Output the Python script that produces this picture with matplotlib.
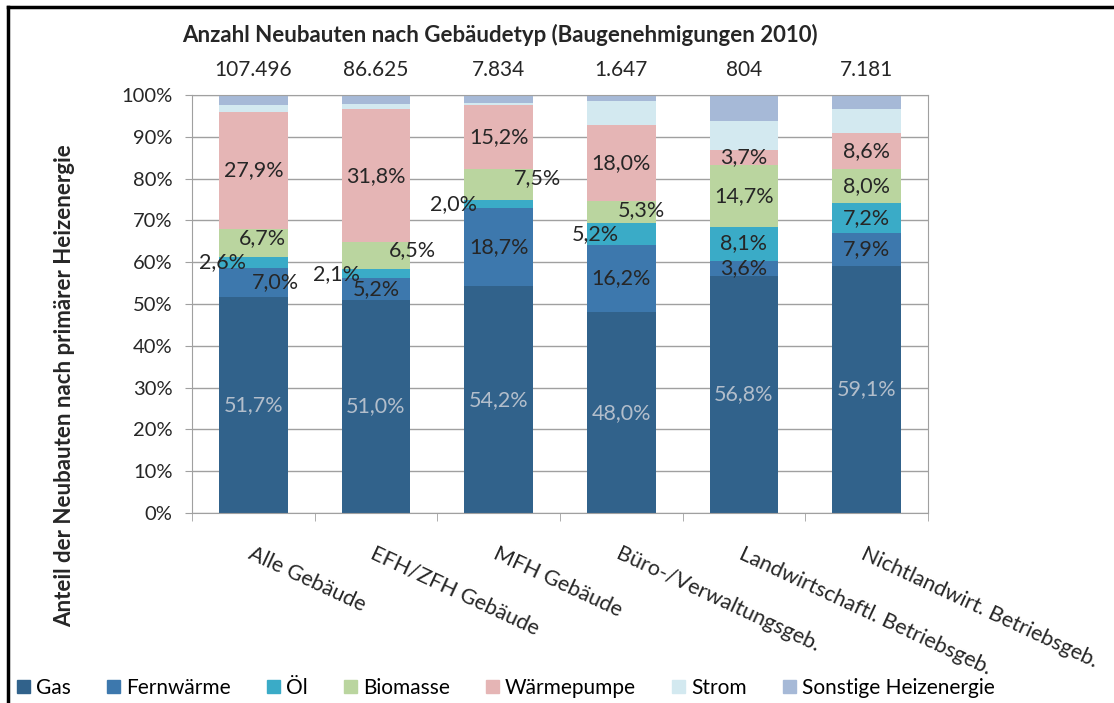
import numpy as np
import matplotlib.pyplot as plt
from matplotlib.lines import Line2D
from matplotlib.patches import Patch

plt.rcParams['font.family'] = ['Lato', 'DejaVu Sans']

categories = ['Alle Gebäude', 'EFH/ZFH Gebäude', 'MFH Gebäude',
              'Büro-/Verwaltungsgeb.', 'Landwirtschaftl. Betriebsgeb.',
              'Nichtlandwirt. Betriebsgeb.']
totals = ['107.496', '86.625', '7.834', '1.647', '804', '7.181']

series = ['Gas', 'Fernwärme', 'Öl', 'Biomasse', 'Wärmepumpe', 'Strom',
          'Sonstige Heizenergie']
gas = [51.7, 51.0, 54.2, 48.0, 56.8, 59.1]
fernwaerme = [7.0, 5.2, 18.7, 16.2, 3.6, 7.9]
oel = [2.6, 2.1, 2.0, 5.2, 8.1, 7.2]
biomasse = [6.7, 6.5, 7.5, 5.3, 14.7, 8.0]
waermepumpe = [27.9, 31.8, 15.2, 18.0, 3.7, 8.6]
strom = [1.6, 1.3, 0.4, 5.8, 6.9, 5.9]
sonstige = [2.5, 2.1, 2.0, 1.5, 6.2, 3.3]

values = [gas, fernwaerme, oel, biomasse, waermepumpe, strom, sonstige]
colors = ['#31628b', '#3d78ad', '#3aabc7', '#bad59f', '#e5b5b5', '#d3e9f0', '#a6b9d7']
# which series get a data label
labelled = [True, True, True, True, True, False, False]

# manual label offsets (x in data units, y in percent) as dragged in the original
offsets = {
    (0, 1): (0.18, 0), (0, 2): (-0.25, 0), (0, 3): (0.07, 1.2),
    (1, 2): (-0.32, 0), (1, 3): (0.30, 1.4),
    (2, 2): (-0.37, 0), (2, 3): (0.32, 1.4),
    (3, 2): (-0.21, 0), (3, 3): (0.16, 0.5),
}

fig = plt.figure(figsize=(11.14, 7.03), dpi=100)
ax = fig.add_axes([0.1724, 0.2703, 0.6606, 0.5946])

x = np.arange(len(categories))
bottom = np.zeros(len(categories))
for s, (name, vals, col) in enumerate(zip(series, values, colors)):
    vals = np.array(vals)
    ax.bar(x, vals, 0.56, bottom=bottom, color=col, label=name, zorder=2)
    if labelled[s]:
        for i, v in enumerate(vals):
            dx, dy = offsets.get((i, s), (0, 0))
            txtcol = '#b3becb' if s == 0 else '#262626'
            ax.text(x[i] + dx, bottom[i] + v / 2 + dy, f'{v:.1f}%'.replace('.', ','),
                    ha='center', va='center', fontsize=15.5, color=txtcol, zorder=3)
    bottom += vals

ax.set_xlim(-0.5, len(categories) - 0.5)
ax.set_ylim(0, 100)
ax.set_yticks(np.arange(0, 101, 10))
ax.set_yticklabels([f'{v}%' for v in range(0, 101, 10)], fontsize=14.5, color='#262626')
ax.yaxis.grid(True, color='#a0a0a0', linewidth=1, zorder=0)
ax.set_axisbelow(True)
for sp in ax.spines.values():
    sp.set_color('#a0a0a0')
ax.tick_params(axis='y', length=5, color='#a0a0a0', pad=9)

ax.set_xticks(x)
ax.set_xticklabels(categories, rotation=-25, ha='left', va='top',
                   rotation_mode='anchor', fontsize=15.5, color='#262626')
ax.tick_params(axis='x', length=0, pad=22)
ax.set_xticks(np.arange(-0.5, len(categories), 1), minor=True)
ax.tick_params(axis='x', which='minor', length=6, color='#a0a0a0')

for i, t in enumerate(totals):
    ax.text(x[i], 106.0, t, ha='center', va='center', fontsize=15, color='#262626')

fig.text(0.449, 0.95, 'Anzahl Neubauten nach Gebäudetyp (Baugenehmigungen 2010)',
         ha='center', va='center', fontsize=16, fontweight='bold', color='#262626')
fig.text(0.058, 0.452, 'Anteil der Neubauten nach primärer Heizenergie', rotation=90,
         ha='center', va='center', fontsize=16, fontweight='bold', color='#262626')

handles = [Patch(color=c, label=n) for n, c in zip(series, colors)]
fig.legend(handles=handles, loc='center left', bbox_to_anchor=(0.008, 0.022), ncol=7,
           frameon=False, fontsize=15, handlelength=0.6, handleheight=0.6,
           handletextpad=0.3, columnspacing=1.75, borderaxespad=0)

# outer frame
fig.add_artist(Line2D([0.0075, 0.0075], [0, 0.99], color='black', linewidth=2.5,
                      transform=fig.transFigure))
fig.add_artist(Line2D([0.0075, 1.0], [0.99, 0.99], color='black', linewidth=2.5,
                      transform=fig.transFigure))

fig.savefig('out.png', dpi=100)
